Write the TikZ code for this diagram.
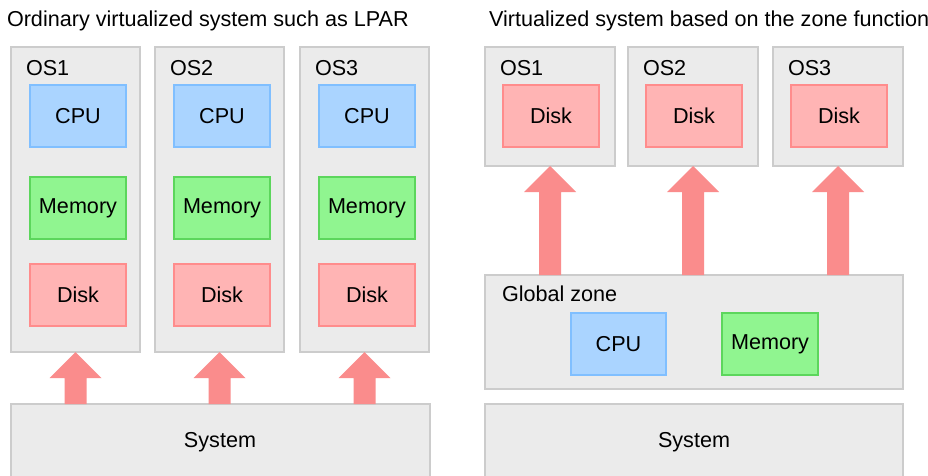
\documentclass[tikz,border=0pt]{standalone}
\usepackage{fontspec}
\setmainfont{Liberation Sans}
\usetikzlibrary{calc}
\definecolor{gfill}{HTML}{EBEBEB}
\definecolor{gline}{HTML}{CCCCCC}
\definecolor{cpufill}{HTML}{AAD4FF}
\definecolor{cpuline}{HTML}{80BFFF}
\definecolor{memfill}{HTML}{90F590}
\definecolor{memline}{HTML}{5CD65C}
\definecolor{dskfill}{HTML}{FFB4B4}
\definecolor{dskline}{HTML}{FF8C8C}
\definecolor{arrc}{HTML}{FA8C8C}
\newcommand\uparr[2]{\fill[arrc] let \p1=(#1), \p2=(#2) in
  (\x2-11pt,\y1) -- (\x2-11pt,\y2-26pt) -- (\x2-26pt,\y2-26pt) -- (\x2,\y2) --
  (\x2+26pt,\y2-26pt) -- (\x2+11pt,\y2-26pt) -- (\x2+11pt,\y1) -- cycle;}
\begin{document}
\begin{tikzpicture}[x=1pt,y=-1pt,
  every node/.style={font=\fontsize{21.6}{25}\selectfont, inner sep=0pt, outer sep=0pt},
  gbox/.style={draw=gline, fill=gfill, line width=1.5pt, anchor=north west},
  cpubox/.style={draw=cpuline, fill=cpufill, line width=1.5pt, anchor=north west, minimum width=96pt, minimum height=62pt},
  membox/.style={draw=memline, fill=memfill, line width=1.5pt, anchor=north west, minimum width=96pt, minimum height=62pt},
  dskbox/.style={draw=dskline, fill=dskfill, line width=1.5pt, anchor=north west, minimum width=96pt, minimum height=62pt},
  lbl/.style={anchor=west}
]
\clip (0,0) rectangle (928,475);
\fill[white] (0,0) rectangle (928,475);
% titles
\node[lbl] (t1) at (7,21) {Ordinary virtualized system such as LPAR};
\node[lbl] (t2) at (489,21) {Virtualized system based on the zone function};
% left panel
\foreach \i/\x in {1/11,2/155,3/300}{
  \node[gbox, minimum width=129pt, minimum height=305pt] (L\i) at (\x,47) {};
  \node[lbl] (Lo\i) at (\x+15,68) {OS\i};
  \node[cpubox] (Lc\i) at (\x+19,85) {};
  \node at (Lc\i.center) (Lct\i) {CPU};
  \node[membox] (Lm\i) at (\x+19,177) {};
  \node at (Lm\i.center) (Lmt\i) {Memory};
  \node[dskbox] (Ld\i) at (\x+19,264) {};
  \node at (Ld\i.center) (Ldt\i) {Disk};
}
\node[gbox, minimum width=419pt, minimum height=90pt] (Ls) at (11,404) {};
\node (Lst) at (220,442) {System};
\uparr{Ls.north}{L1.south}
\uparr{Ls.north}{L2.south}
\uparr{Ls.north}{L3.south}
% right panel
\foreach \i/\x in {1/485,2/628,3/773}{
  \node[gbox, minimum width=130pt, minimum height=119pt] (R\i) at (\x,47) {};
  \node[lbl] (Ro\i) at (\x+15,68) {OS\i};
  \node[dskbox] (Rd\i) at (\x+18,85) {};
  \node at (Rd\i.center) (Rdt\i) {Disk};
}
\node[gbox, minimum width=418pt, minimum height=114pt] (G) at (485,275) {};
\node[lbl] (Gt) at (502,294) {Global zone};
\node[cpubox, minimum width=95pt] (Gc) at (571,313) {};
\node at (Gc.center) (Gct) {CPU};
\node[membox] (Gm) at (722,313) {};
\node at (Gm.center) (Gmt) {Memory};
\node[gbox, minimum width=418pt, minimum height=90pt] (Rs) at (485,404) {};
\node (Rst) at (694,442) {System};
\uparr{G.north}{R1.south}
\uparr{G.north}{R2.south}
\uparr{G.north}{R3.south}
\end{tikzpicture}
\end{document}
